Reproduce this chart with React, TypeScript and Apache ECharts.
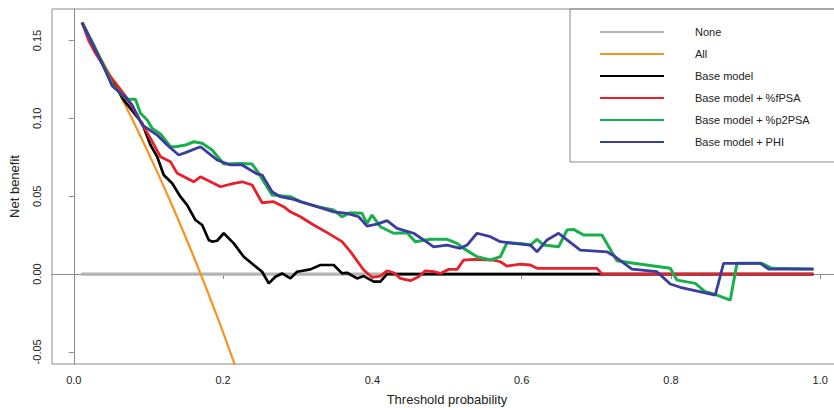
import React, { useEffect, useRef } from "react";
import * as echarts from "echarts";

// Threshold probability vs net benefit
const seriesNames = [
  "None",
  "All",
  "Base model",
  "Base model + %fPSA",
  "Base model + %p2PSA",
  "Base model + PHI",
];
const xTicks = [0, 0.2, 0.4, 0.6, 0.8, 1.0];
const yTicks = [-0.05, 0, 0.05, 0.1, 0.15];

const noneData: [number, number][] = [
  [0.01, 0],
  [0.99, 0],
];

const allData: [number, number][] = [
  [0.01, 0.1616], [0.02, 0.1531], [0.03, 0.1443], [0.04, 0.1354], [0.05, 0.1263],
  [0.06, 0.117], [0.07, 0.1075], [0.08, 0.0978], [0.09, 0.0879], [0.1, 0.0778],
  [0.11, 0.0674], [0.12, 0.0568], [0.13, 0.046], [0.14, 0.0349], [0.15, 0.0235],
  [0.16, 0.0119], [0.17, 0.0], [0.18, -0.0122], [0.19, -0.0247], [0.2, -0.0375],
  [0.21, -0.0506], [0.22, -0.0641], [0.23, -0.0779],
];

const baseData: [number, number][] = [
  [0.0112, 0.1615], [0.04, 0.1335], [0.067, 0.1118], [0.0916, 0.0969], [0.1027, 0.0829],
  [0.1117, 0.0754], [0.1205, 0.0636], [0.1318, 0.0583], [0.1429, 0.0497], [0.1519, 0.0443],
  [0.163, 0.0347], [0.172, 0.0315], [0.1808, 0.0219], [0.1853, 0.0208], [0.192, 0.0214],
  [0.2009, 0.0262], [0.2143, 0.0197], [0.2277, 0.0111], [0.2411, 0.0058], [0.2523, 0.0015],
  [0.2612, -0.006], [0.2701, -0.0017], [0.2791, 0.0004], [0.2902, -0.0028], [0.2992, 0.0015],
  [0.317, 0.003], [0.3304, 0.0058], [0.3482, 0.0058], [0.3594, 0.0004], [0.3661, 0.0008],
  [0.3795, -0.0028], [0.3884, -0.0013], [0.4018, -0.0049], [0.4107, -0.0049], [0.4197, 0],
  [0.991, 0],
];

const fpsaData: [number, number][] = [
  [0.0112, 0.1615], [0.02, 0.15], [0.0291, 0.1418], [0.0492, 0.1268], [0.0715, 0.1129],
  [0.1027, 0.0872], [0.1161, 0.0754], [0.1295, 0.0722], [0.1385, 0.0647], [0.1607, 0.0593],
  [0.1697, 0.0625], [0.1831, 0.0593], [0.1965, 0.0561], [0.2143, 0.0583], [0.2255, 0.0593],
  [0.2389, 0.0572], [0.2523, 0.0458], [0.2678, 0.0465], [0.2812, 0.0433], [0.2902, 0.04],
  [0.3036, 0.0368], [0.3214, 0.0315], [0.3394, 0.0266], [0.3594, 0.0208], [0.3706, 0.0144],
  [0.3884, 0.0026], [0.3996, -0.0021], [0.4107, -0.0013], [0.4197, 0.0021], [0.4286, 0.0008],
  [0.4375, -0.0028], [0.4509, -0.0043], [0.462, -0.0017], [0.471, 0.0021], [0.4821, 0.0015],
  [0.4911, 0.0004], [0.5022, 0.003], [0.5135, 0.003], [0.5223, 0.009], [0.5357, 0.0094],
  [0.5625, 0.009], [0.5714, 0.0079], [0.5804, 0.0051], [0.5893, 0.0058], [0.5982, 0.0064],
  [0.6116, 0.0058], [0.6206, 0.0037], [0.701, 0.0037], [0.7076, 0], [0.991, 0],
];

const p2psaData: [number, number][] = [
  [0.0112, 0.1615], [0.027, 0.147], [0.04, 0.1335], [0.052, 0.1215], [0.0625, 0.1161],
  [0.0715, 0.1123], [0.0826, 0.1123], [0.0893, 0.1033], [0.0983, 0.099], [0.105, 0.0936],
  [0.1161, 0.09], [0.1295, 0.0818], [0.1362, 0.0818], [0.1496, 0.0829], [0.1607, 0.085],
  [0.172, 0.084], [0.1853, 0.0797], [0.2009, 0.0707], [0.2232, 0.0711], [0.2389, 0.0707],
  [0.2478, 0.0647], [0.2657, 0.0508], [0.2902, 0.0497], [0.3036, 0.0465], [0.326, 0.0433],
  [0.3482, 0.0411], [0.3594, 0.0368], [0.3706, 0.0394], [0.3862, 0.039], [0.3929, 0.0326],
  [0.3996, 0.0379], [0.4107, 0.0304], [0.4286, 0.0262], [0.4465, 0.0265], [0.4576, 0.0208],
  [0.4777, 0.0223], [0.5001, 0.0223], [0.5135, 0.0197], [0.5223, 0.0165], [0.5402, 0.0111],
  [0.5581, 0.009], [0.5714, 0.0111], [0.5804, 0.0201], [0.5982, 0.0197], [0.6116, 0.0186],
  [0.6206, 0.0223], [0.6294, 0.0186], [0.6495, 0.0175], [0.6608, 0.0283], [0.6696, 0.0287],
  [0.683, 0.0251], [0.7076, 0.0251], [0.7277, 0.0085], [0.75, 0.0069], [0.7991, 0.0037],
  [0.8081, -0.0039], [0.8326, -0.006], [0.846, -0.0114], [0.8617, -0.0135], [0.8795, -0.0167],
  [0.8885, 0.0069], [0.9219, 0.0069], [0.9353, 0.0037], [0.991, 0.0032],
];

const phiData: [number, number][] = [
  [0.0112, 0.1615], [0.0268, 0.1461], [0.04, 0.1332], [0.0514, 0.1208], [0.0692, 0.1136],
  [0.0782, 0.1086], [0.0916, 0.0958], [0.1117, 0.0893], [0.1251, 0.0829], [0.1406, 0.0765],
  [0.1496, 0.078], [0.1697, 0.0818], [0.192, 0.0733], [0.2098, 0.0701], [0.2255, 0.0701],
  [0.2456, 0.0643], [0.2523, 0.0636], [0.2657, 0.0529], [0.2768, 0.0497], [0.2946, 0.048],
  [0.3036, 0.0465], [0.326, 0.0433], [0.3482, 0.04], [0.3661, 0.039], [0.3817, 0.0368],
  [0.3929, 0.0308], [0.4063, 0.0321], [0.4197, 0.0343], [0.4331, 0.0294], [0.4553, 0.0262],
  [0.4687, 0.0219], [0.4821, 0.0175], [0.5001, 0.0186], [0.5179, 0.0165], [0.5269, 0.0186],
  [0.5402, 0.0262], [0.5581, 0.024], [0.5714, 0.0208], [0.5893, 0.0197], [0.6116, 0.0186],
  [0.6206, 0.0143], [0.634, 0.0219], [0.6495, 0.0262], [0.6608, 0.0219], [0.6786, 0.0154],
  [0.7143, 0.0143], [0.7255, 0.0111], [0.7478, 0.0032], [0.7813, 0.0015], [0.7991, -0.0064],
  [0.8125, -0.0085], [0.8594, -0.0135], [0.8705, 0.0069], [0.9197, 0.0069], [0.9308, 0.0032],
  [0.991, 0.0032],
];

const seriesData = [noneData, allData, baseData, fpsaData, p2psaData, phiData];
const seriesColors = ["#b4b4b4", "#f7941d", "#000000", "#e8202a", "#18b04a", "#3a3c9e"];
const seriesWidths = [3.2, 2.2, 2.7, 2.8, 3, 2.8];

const FONT = "Liberation Sans, Arial, sans-serif";

export default function App() {
  const ref = useRef<HTMLDivElement>(null);

  useEffect(() => {
    if (!ref.current) return;
    const chart = echarts.init(ref.current, null, { renderer: "svg" });
    const option: any = {
      animation: false,
      backgroundColor: "#ffffff",
      textStyle: { fontFamily: FONT },
      grid: {
        left: 52,
        top: 9,
        right: -8,
        bottom: 44,
        show: true,
        borderColor: "#8a8a8a",
        borderWidth: 1,
        containLabel: false,
        outerBoundsMode: "none",
      },
      legend: {
        data: seriesNames,
        orient: "vertical",
        left: 570,
        top: 9,
        padding: [16, 80, 13, 30],
        borderColor: "#8a8a8a",
        borderWidth: 1,
        icon: "rect",
        itemWidth: 64,
        itemHeight: 2,
        itemGap: 8,
        formatter: (name: string) => `{g|}${name}`,
        textStyle: {
          fontFamily: FONT,
          fontSize: 11,
          color: "#222",
          lineHeight: 14,
          rich: { g: { width: 26, lineHeight: 14 } },
        },
      },
      xAxis: {
        type: "value",
        min: -0.0292,
        max: 1.0292,
        name: "Threshold probability",
        nameLocation: "middle",
        nameGap: 29,
        nameTextStyle: { fontFamily: FONT, fontSize: 13, color: "#222" },
        axisLine: { show: true, lineStyle: { color: "#8a8a8a", width: 1 } },
        axisTick: {
          show: true,
          length: 5,
          customValues: xTicks,
          lineStyle: { color: "#8a8a8a" },
        },
        axisLabel: {
          customValues: xTicks,
          formatter: (v: number) => v.toFixed(1),
          fontFamily: FONT,
          fontSize: 11,
          color: "#222",
          margin: 10,
        },
        splitLine: { show: false },
      },
      yAxis: {
        type: "value",
        min: -0.0578,
        max: 0.1703,
        name: "Net benefit",
        nameLocation: "middle",
        nameGap: 31,
        nameTextStyle: { fontFamily: FONT, fontSize: 13, color: "#222" },
        axisLine: { show: true, lineStyle: { color: "#8a8a8a", width: 1 } },
        axisTick: {
          show: true,
          length: 5,
          customValues: yTicks,
          lineStyle: { color: "#8a8a8a" },
        },
        axisLabel: {
          customValues: yTicks,
          rotate: 90,
          formatter: (v: number) => v.toFixed(2),
          fontFamily: FONT,
          fontSize: 11,
          color: "#222",
          margin: 10,
        },
        splitLine: { show: false },
      },
      series: seriesNames.map((name, i) => ({
        name,
        type: "line",
        data: seriesData[i],
        symbol: "none",
        showSymbol: false,
        clip: true,
        color: seriesColors[i],
        lineStyle: { color: seriesColors[i], width: seriesWidths[i] },
        z: 2 + i,
      })),
    };
    chart.setOption(option);
    return () => chart.dispose();
  }, []);

  return (
    <div
      ref={ref}
      style={{ position: "fixed", left: 0, top: 0, width: 834, height: 408, background: "#fff" }}
    />
  );
}
